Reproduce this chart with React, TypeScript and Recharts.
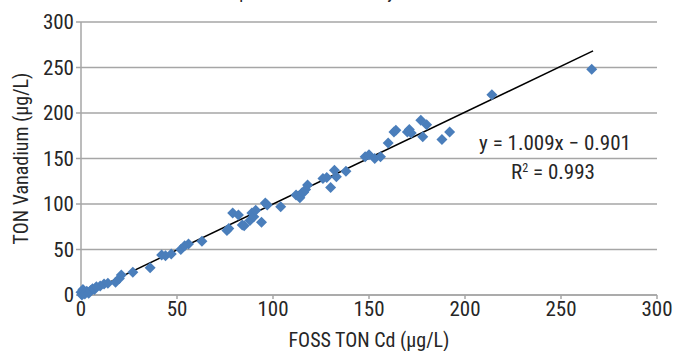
import React from "react";
import { ScatterChart, Scatter, XAxis, YAxis, CartesianGrid, ReferenceLine, Label } from "recharts";

const fossCd: number[] = [0, 0.5, 1, 2, 3, 4, 5, 6, 7, 8, 10, 12, 14, 18, 20, 21, 27, 36, 42, 44, 47, 52, 54, 56, 63, 76, 77, 79, 82, 84, 85, 88, 89, 90, 91, 94, 96, 97, 104, 112, 114, 115, 116, 118, 117, 126, 128, 130, 132, 133, 138, 148, 150, 153, 156, 160, 163, 164, 170, 171, 172, 178, 177, 180, 188, 192, 214, 266];
const tonVanadium: number[] = [3, 0, 6, 1, 4, 2, 5, 7, 6, 9, 10, 12, 13, 14, 18, 22, 25, 30, 44, 43, 45, 50, 54, 56, 59, 71, 73, 90, 88, 77, 76, 82, 90, 86, 93, 80, 101, 99, 97, 110, 107, 112, 113, 121, 116, 128, 129, 118, 137, 130, 136, 152, 154, 150, 152, 167, 179, 181, 179, 182, 178, 174, 192, 187, 171, 179, 220, 248];
const xTicks: number[] = [0, 50, 100, 150, 200, 250, 300];
const yTicks: number[] = [0, 50, 100, 150, 200, 250, 300];
const slope = 1.009;
const intercept = -0.901;

const points = fossCd.map((x, i) => ({ x, y: tonVanadium[i] }));
const xMinData = Math.min(...fossCd);
const xMaxData = Math.max(...fossCd);

const FONT = "'Liberation Sans Narrow', 'Arial Narrow', 'Roboto Condensed', sans-serif";
const TEXT = "#262626";
const GRID = "#A6A6A6";
const BLUE = "#4A7EBB";

const Diamond = (props: any) => {
  const { cx, cy } = props;
  const h = 5.5;
  return (
    <polygon
      points={`${cx},${cy - h} ${cx + h},${cy} ${cx},${cy + h} ${cx - h},${cy}`}
      fill={BLUE}
    />
  );
};

export default function App() {
  return (
    <div style={{ position: "absolute", left: 0, top: 0, width: 673, height: 351, overflow: "hidden", fontFamily: FONT, background: "#fff" }}>
      <div style={{ position: "absolute", left: -90, width: 673, top: -19, textAlign: "center", fontSize: 18, color: TEXT, whiteSpace: "nowrap" }}>
        TON Vanadium comparison with Cd assay
      </div>
      <ScatterChart width={673} height={351} margin={{ top: 22, right: 16, bottom: 26, left: 0 }}>
        <CartesianGrid vertical={false} stroke={GRID} strokeWidth={1.5} />
        <XAxis
          type="number"
          dataKey="x"
          domain={[0, 300]}
          ticks={xTicks}
          stroke={GRID}
          strokeWidth={1.5}
          tickSize={4}
          tick={{ fill: TEXT, fontSize: 21, fontFamily: FONT }}
          height={30}
        >
          <Label value="FOSS TON Cd (µg/L)" position="insideBottom" offset={-22} style={{ fill: TEXT, fontSize: 20, fontFamily: FONT }} />
        </XAxis>
        <YAxis
          type="number"
          dataKey="y"
          domain={[0, 300]}
          ticks={yTicks}
          stroke={GRID}
          strokeWidth={1.5}
          tickSize={5}
          tick={{ fill: TEXT, fontSize: 21, fontFamily: FONT }}
          width={81}
        >
          <Label value="TON Vanadium (µg/L)" angle={-90} position="insideLeft" offset={21} style={{ fill: TEXT, fontSize: 20, fontFamily: FONT, textAnchor: "middle" }} />
        </YAxis>
        <Scatter data={points} shape={<Diamond />} isAnimationActive={false} />
        <ReferenceLine
          segment={[
            { x: xMinData, y: slope * xMinData + intercept },
            { x: xMaxData + 0.7, y: slope * (xMaxData + 0.7) + intercept },
          ]}
          stroke="#000"
          strokeWidth={1.5}
          ifOverflow="visible"
        />
      </ScatterChart>
      <div style={{ position: "absolute", left: 455, width: 200, top: 131, textAlign: "center", fontSize: 21, color: TEXT }}>
        y = 1.009x − 0.901
      </div>
      <div style={{ position: "absolute", left: 453, width: 200, top: 160, textAlign: "center", fontSize: 21, color: TEXT }}>
        R<sup style={{ fontSize: 12, verticalAlign: 7 }}>2</sup> = 0.993
      </div>
    </div>
  );
}
